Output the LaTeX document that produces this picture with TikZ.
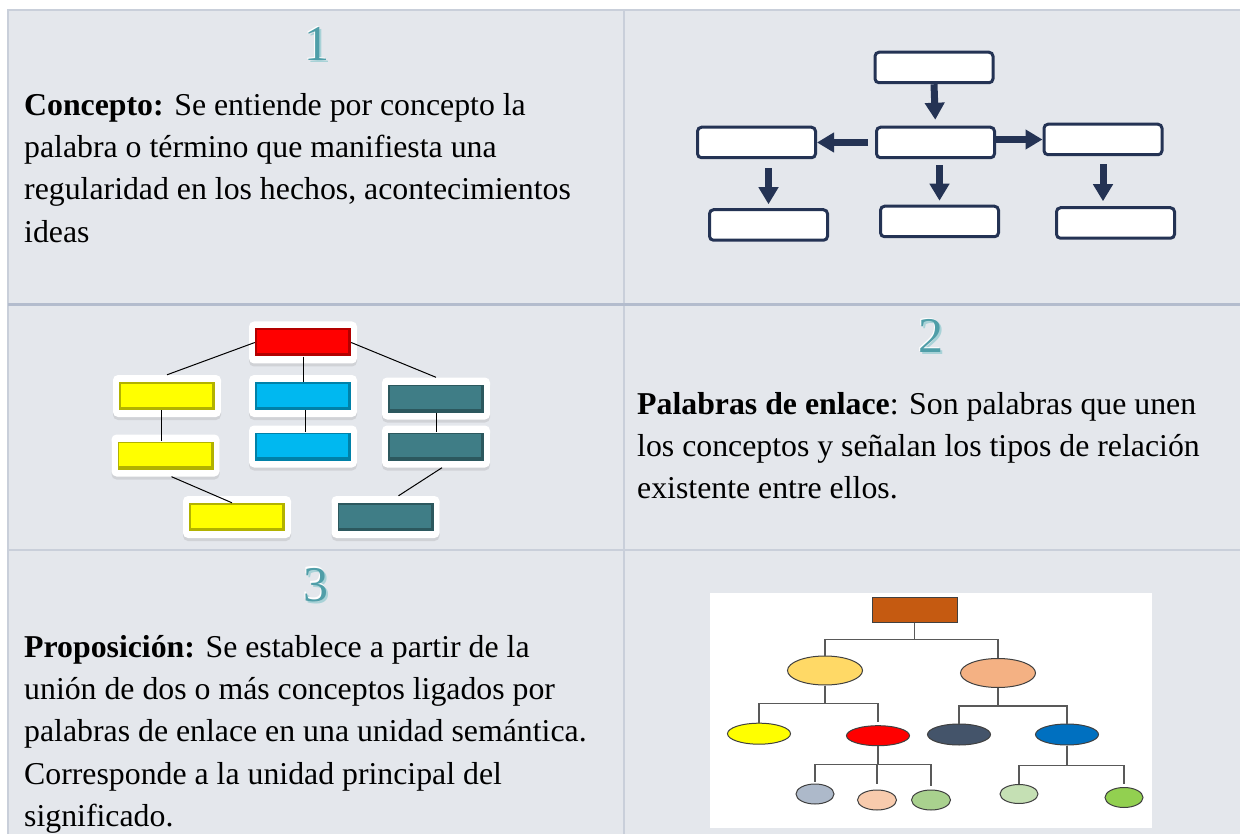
\documentclass[tikz,border=0pt]{standalone}
\usepackage{fontspec}
\setmainfont{Liberation Serif}
\usetikzlibrary{arrows.meta,shapes.geometric,shadows}

\definecolor{cellbg}{HTML}{E4E7EC}
\definecolor{rulec}{HTML}{C9CFDA}
\definecolor{rulek}{HTML}{B3BCCD}
\definecolor{navy}{HTML}{243354}
\definecolor{numteal}{HTML}{4F9EA8}
\definecolor{numshade}{HTML}{A8D2D7}
\definecolor{ylw}{HTML}{FFFF00}
\definecolor{sky}{HTML}{00B8F0}
\definecolor{petrol}{HTML}{3F7D86}
\definecolor{treeline}{HTML}{595959}

\tikzset{
  txt/.style={anchor=north west,inner sep=0,align=left,font=\fontsize{31.8}{42.3}\selectfont},
  num/.style={inner sep=0,font=\fontsize{50}{50}\selectfont},
  cbox/.style={draw=navy,line width=3pt,rounded corners=4pt,fill=white,minimum width=118pt,minimum height=30.5pt,inner sep=0},
  bigarrow/.style={navy,line width=7pt,-{Triangle[width=19pt,length=17pt]}},
  frm/.style={fill=white,rounded corners=5pt,minimum width=108pt,minimum height=42pt,inner sep=0,
    drop shadow={shadow xshift=0pt,shadow yshift=-3pt,opacity=.2}},
  bev/.style={fill=#1!70!black,minimum width=96pt,minimum height=28pt,inner sep=0,
    path picture={\fill[#1] ([shift={(1.5pt,-1.5pt)}]path picture bounding box.north west)
      rectangle ([shift={(-3pt,3.5pt)}]path picture bounding box.south east);}},
  lk/.style={black,line width=1pt},
  ell/.style={ellipse,draw=black!75,line width=1pt,inner sep=0},
  tl/.style={treeline,line width=1.4pt},
}

\begin{document}
\begin{tikzpicture}[x=1pt,y=-1pt]
\useasboundingbox (0,0) rectangle (1240,834);
\fill[white] (0,0) rectangle (1240,834);

% table
\fill[cellbg] (8,10) rectangle (1240,834);
\draw[rulec,line width=1.5pt] (8,834) -- (8,10) -- (1240,10);
\draw[rulec,line width=1.5pt] (624,10) -- (624,834);
\draw[rulec,line width=1.5pt] (8,550) -- (1240,550);
\draw[rulek,line width=3.5pt] (8,304.5) -- (1240,304.5);

% numbers
\foreach \n/\x/\y in {1/317/44,2/931/336,3/316/585}{
  \node[num,text=numshade] (num\n s) at (\x+2,\y+2) {\n};
  \node[num,text=white] (num\n w) at (\x-1.5,\y-1.5) {\n};
  \node[num,text=numteal] (num\n) at (\x,\y) {\n};
}

% texts
\node[txt] (concepto) at (24,93) {\textbf{Concepto:} Se entiende por concepto la\\
palabra o término que manifiesta una\\
regularidad en los hechos, acontecimientos\\
ideas};
\node[txt] (enlace) at (637,392) {\textbf{Palabras de enlace}: Son palabras que unen\\
los conceptos y señalan los tipos de relación\\
existente entre ellos.};
\node[txt] (propos) at (24,635) {\textbf{Proposición:} Se establece a partir de la\\
unión de dos o más conceptos ligados por\\
palabras de enlace en una unidad semántica.\\
Corresponde a la unidad principal del\\
significado.};

% flow boxes
\node[cbox] (top) at (934,67.5) {};
\node[cbox] (mid) at (935.5,142.5) {};
\node[cbox] (lft) at (756.5,142.5) {};
\node[cbox] (rgt) at (1103,139.5) {};
\node[cbox] (bl) at (768.5,225) {};
\node[cbox] (bc) at (939.5,221.5) {};
\node[cbox] (br) at (1115.5,223) {};
\draw[bigarrow,shorten >=6pt] (top.south) -- (mid.north);
\draw[bigarrow,shorten <=7pt] (mid.west) -- (lft.east);
\draw[bigarrow] (mid.east |- rgt.west) -- (rgt.west);
\draw[bigarrow,shorten <=9pt,shorten >=4pt] (bl.north |- lft.south) -- (bl.north);
\draw[bigarrow,shorten <=6pt,shorten >=4pt] (bc.north |- mid.south) -- (bc.north);
\draw[bigarrow,shorten <=8pt,shorten >=5pt] (rgt.south) -- (rgt.south |- br.north);

% bevelled boxes
\node[frm] (fr) at (303,342.5) {};
\node[frm] (fy1) at (167,396) {};
\node[frm] (fb1) at (303,396) {};
\node[frm] (ft1) at (436,398.5) {};
\node[frm] (fy2) at (165.5,455.5) {};
\node[frm] (fb2) at (303,446.5) {};
\node[frm] (ft2) at (436,446.5) {};
\node[frm] (fy3) at (237,517) {};
\node[frm] (ft3) at (385.5,517) {};
\node[bev=red] (r) at (fr) {};
\node[bev=ylw] (y1) at (fy1) {};
\node[bev=sky] (b1) at (fb1) {};
\node[bev=petrol] (t1) at (ft1) {};
\node[bev=ylw] (y2) at (fy2) {};
\node[bev=sky] (b2) at (fb2) {};
\node[bev=petrol] (t2) at (ft2) {};
\node[bev=ylw] (y3) at (fy3) {};
\node[bev=petrol] (t3) at (ft3) {};
\draw[lk] (r.west) -- (fy1.north);
\draw[lk] (r.east) -- (ft1.north);
\draw[lk] (r.south) -- (b1.north);
\draw[lk] ([xshift=-6pt]y1.south) -- ([xshift=-6pt]y1.south |- y2.north);
\draw[lk] ([xshift=2pt]b1.south) -- ([xshift=2pt]b2.north);
\draw[lk] (t1.south) -- (t2.north);
\draw[lk] ([xshift=6pt]fy2.south) -- ([xshift=-5pt]y3.north);
\draw[lk] ([xshift=6pt]ft2.south) -- ([xshift=13pt]ft3.north);

% tree
\fill[white] (710,593) rectangle (1152,828);
\node[draw=black!75,line width=1pt,fill={rgb,255:red,197;green,90;blue,17},minimum width=85pt,minimum height=25pt,inner sep=0] (root) at (914.5,609.5) {};
\node[ell,fill={rgb,255:red,255;green,217;blue,102},minimum width=75pt,minimum height=29pt] (e1) at (825,670.5) {};
\node[ell,fill={rgb,255:red,244;green,177;blue,131},minimum width=75pt,minimum height=29pt] (e2) at (998,673) {};
\node[ell,fill=ylw,minimum width=63pt,minimum height=21pt] (e11) at (759,733.7) {};
\node[ell,fill=red,minimum width=63pt,minimum height=20pt] (e12) at (878,735.7) {};
\node[ell,fill={rgb,255:red,68;green,84;blue,106},minimum width=63pt,minimum height=21pt] (e21) at (959,734.5) {};
\node[ell,fill={rgb,255:red,0;green,112;blue,192},minimum width=63pt,minimum height=21pt] (e22) at (1067,734.5) {};
\node[ell,fill={rgb,255:red,173;green,185;blue,202},minimum width=38pt,minimum height=20pt] (e121) at (815,794) {};
\node[ell,fill={rgb,255:red,248;green,203;blue,173},minimum width=39pt,minimum height=20pt] (e122) at (877,800) {};
\node[ell,fill={rgb,255:red,169;green,209;blue,142},minimum width=39pt,minimum height=20pt] (e123) at (931,800) {};
\node[ell,fill={rgb,255:red,197;green,224;blue,180},minimum width=38pt,minimum height=19pt] (e221) at (1019,794) {};
\node[ell,fill={rgb,255:red,146;green,208;blue,80},minimum width=38pt,minimum height=20pt] (e222) at (1124,797.5) {};
\draw[tl] (root.south) -- ++(0,17) -| (e1.north);
\draw[tl] (root.south) -- ++(0,17) -| (e2.north);
\draw[tl] (e1.south) -- ++(0,18) -| (e11.north);
\draw[tl,shorten >=3pt] (e1.south) -- ++(0,18) -| (e12.north);
\draw[tl] (e2.south) -- ++(0,18) -| (e21.north);
\draw[tl] (e2.south) -- ++(0,18) -| (e22.north);
\draw[tl,shorten >=2pt] (e12.south) -- ++(0,18) -| (e121.north);
\draw[tl,shorten >=6pt] (e12.south) -- ++(0,18) -| (e122.north);
\draw[tl,shorten >=4pt] (e12.south) -- ++(0,18) -| (e123.north);
\draw[tl] (e22.south) -- ++(0,20) -| (e221.north);
\draw[tl,shorten >=3pt] (e22.south) -- ++(0,20) -| (e222.north);
\end{tikzpicture}
\end{document}
